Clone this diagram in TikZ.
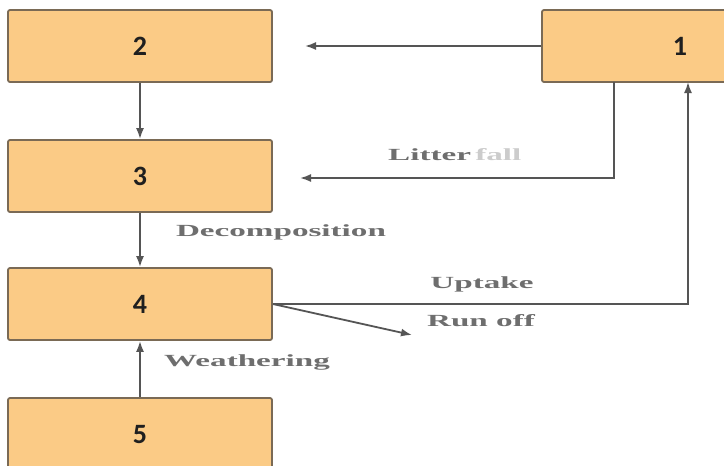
\documentclass[tikz,border=0pt]{standalone}
\usepackage{fontspec}
\usepackage{graphicx}
\setmainfont{Liberation Serif}
\newfontfamily\boxfont{Carlito}
\usetikzlibrary{arrows.meta}
\definecolor{boxfill}{HTML}{FBCB86}
\definecolor{boxline}{HTML}{7A6A55}
\definecolor{arrowcol}{HTML}{555555}
\definecolor{labelcol}{HTML}{6E6E6E}
\newcommand{\wide}[1]{\scalebox{1.95}[1]{#1}}
\begin{document}
\begin{tikzpicture}[x=1pt,y=-1pt,
  stagebox/.style={draw=boxline,line width=1.8pt,fill=boxfill,rounded corners=2pt,minimum width=264pt,minimum height=72pt,inner sep=0pt,font=\boxfont\bfseries\fontsize{28}{30}\selectfont,text=black!88},
  flow/.style={draw=arrowcol,line width=1.8pt,-{Latex[length=11pt,width=8pt]}},
  lbl/.style={font=\bfseries\fontsize{17}{19}\selectfont,text=labelcol,inner sep=0pt}]
\useasboundingbox (0,0) rectangle (724,466);
\fill[white] (0,0) rectangle (724,466);
\node[stagebox] (b2) at (140,46) {2};
\node[stagebox] (b3) at (140,176) {3};
\node[stagebox] (b4) at (140,304) {4};
\node[stagebox,minimum height=74pt] (b5) at (140,435) {5};
\node[stagebox,minimum width=190pt,text width=170pt,align=right] (b1) at (637,46) {1\hspace*{35pt}};
\coordinate (t2) at (305,46);
\coordinate (t3) at (300,178);
\coordinate (ro) at (412,335);
\coordinate (c1) at (614,82);
\coordinate (c4) at (688,82);
\draw[flow] (b1.west |- t2) -- (t2);
\draw[flow] (b2.south) -- (b3.north);
\draw[flow] (b3.south) -- (b4.north);
\draw[flow] (b5.north) -- (b4.south);
\draw[flow] (c1) -- (c1 |- t3) -- (t3);
\draw[flow] (b4.east) -- (b4.east -| c4) -- (c4);
\draw[flow] (b4.east) -- (ro);
\node[lbl,anchor=west] (l1) at (388,155) {\wide{Litter} \textcolor{labelcol!35}{\wide{fall}}};
\node[lbl] (l2) at (281,232) {\wide{Decomposition}};
\node[lbl] (l3) at (482,284) {\wide{Uptake}};
\node[lbl] (l4) at (481,321) {\wide{Run off}};
\node[lbl] (l5) at (247,362) {\wide{Weathering}};
\end{tikzpicture}
\end{document}
